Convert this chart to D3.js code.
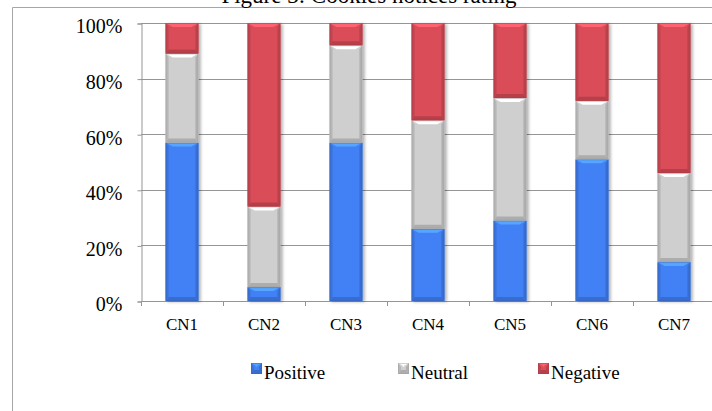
<!DOCTYPE html>
<html>
<head>
<meta charset="utf-8">
<script src="https://d3js.org/d3.v7.min.js"></script>
<style>
  body { margin: 0; background: #fff; }
  svg text { font-family: "Liberation Serif", "Times New Roman", serif !important; fill: #000; }
</style>
</head>
<body>
<div id="chart"></div>
<script>
// chart values (percent of notices)
var categories = ["CN1", "CN2", "CN3", "CN4", "CN5", "CN6", "CN7"];
var positive = [57, 5, 57, 26, 29, 51, 14];
var neutral  = [32, 29, 35, 39, 44, 21, 32];
var negative = [11, 66, 8, 35, 27, 28, 54];
var seriesNames = ["Positive", "Neutral", "Negative"];
var yTicks = [0, 0.2, 0.4, 0.6, 0.8, 1];
var title = "Figure 3: Cookies notices rating";

var width = 712, height = 411;
var colors = { Positive: "#4381f5", Neutral: "#cfcfcf", Negative: "#da4d59" };

var rows = categories.map((c, i) => ({
  cat: c,
  Positive: positive[i] / 100,
  Neutral: neutral[i] / 100,
  Negative: negative[i] / 100
}));

var svg = d3.select("#chart").append("svg")
  .attr("width", width)
  .attr("height", height)
  .style("font-family", "'Liberation Serif', serif");

var defs = svg.append("defs");
var shadow = defs.append("filter").attr("id", "shadow")
  .attr("x", "-20%").attr("y", "-5%").attr("width", "150%").attr("height", "115%");
shadow.append("feDropShadow")
  .attr("dx", 2).attr("dy", 1)
  .attr("stdDeviation", 1.6)
  .attr("flood-color", "#000")
  .attr("flood-opacity", 0.3);

// outer frame
svg.append("path")
  .attr("d", "M12.5,411 V7.5 H712")
  .attr("fill", "none")
  .attr("stroke", "#a6a6a6");

// title (cut at top like the reference)
svg.append("text")
  .attr("x", 369).attr("y", 3)
  .attr("text-anchor", "middle")
  .style("font-size", "23px")
  .text(title);

var x = d3.scaleBand()
  .domain(categories)
  .range([141, 715])
  .paddingInner(0.6)
  .paddingOuter(0.3);

var y = d3.scaleLinear().domain([0, 1]).range([301, 23]);

// gridlines
svg.append("g")
  .selectAll("line")
  .data(yTicks.slice(1))
  .join("line")
  .attr("x1", 141).attr("x2", 715)
  .attr("y1", d => Math.round(y(d)) + 0.5)
  .attr("y2", d => Math.round(y(d)) + 0.5)
  .attr("stroke", "#959595");

// y axis
var yAxis = svg.append("g")
  .attr("transform", "translate(141.5,0.5)")
  .call(d3.axisLeft(y).tickValues(yTicks).tickFormat(d3.format(".0%")).tickSize(4).tickPadding(15));
yAxis.attr("font-family", null);
yAxis.select(".domain").attr("stroke", "#959595");
yAxis.selectAll(".tick line").attr("stroke", "#959595");
yAxis.selectAll("text")
  .style("font-size", "20px")
  .attr("dy", "0.47em");

// x axis
var xAxis = svg.append("g")
  .attr("transform", "translate(0,301.5)")
  .call(d3.axisBottom(x).tickSize(0).tickPadding(0));
xAxis.attr("font-family", null);
xAxis.select(".domain").attr("stroke", "#959595").attr("d", "M141,0H715");
xAxis.selectAll("text")
  .style("font-size", "17px")
  .attr("dy", null)
  .attr("y", 28);
// boundary ticks
var step = x.step();
svg.append("g")
  .selectAll("line")
  .data(d3.range(categories.length + 1))
  .join("line")
  .attr("x1", i => Math.round(x.range()[0] + i * step) + 0.5)
  .attr("x2", i => Math.round(x.range()[0] + i * step) + 0.5)
  .attr("y1", 301).attr("y2", 306)
  .attr("stroke", "#959595");

// stacked bars with bevel
var stack = d3.stack().keys(seriesNames)(rows);

function bevel(g, x0, y0, w, h, base) {
  var b = Math.min(4, h / 2);
  var c = d3.color(base);
  var x1 = x0 + w, y1 = y0 + h;
  g.append("rect").attr("x", x0).attr("y", y0).attr("width", w).attr("height", h)
    .attr("fill", base);
  // sides
  g.append("polygon")
    .attr("points", [[x0, y0], [x0 + 3, y0 + b], [x0 + 3, y1 - b], [x0, y1]].join(" "))
    .attr("fill", c.darker(0.35));
  g.append("polygon")
    .attr("points", [[x1, y0], [x1 - 3, y0 + b], [x1 - 3, y1 - b], [x1, y1]].join(" "))
    .attr("fill", c.darker(0.45));
  // top highlight
  g.append("polygon")
    .attr("points", [[x0, y0], [x1, y0], [x1 - 3 - b, y0 + b], [x0 + 3 + b, y0 + b]].join(" "))
    .attr("fill", c.brighter(0.7));
  // bottom shade
  g.append("polygon")
    .attr("points", [[x0, y1], [x1, y1], [x1 - 3, y1 - b], [x0 + 3, y1 - b]].join(" "))
    .attr("fill", c.darker(0.5));
  g.append("rect").attr("x", x0 + 0.5).attr("y", y0 + 0.5).attr("width", w - 1).attr("height", h - 1)
    .attr("fill", "none").attr("stroke", c.darker(0.7)).attr("stroke-opacity", 0.5);
}

var bars = svg.append("g").attr("filter", "url(#shadow)");
stack.forEach(s => {
  s.forEach(d => {
    var g = bars.append("g");
    bevel(g, x(d.data.cat), y(d[1]), x.bandwidth(), y(d[0]) - y(d[1]), colors[s.key]);
  });
});

// legend
var legendX = [251, 398, 538];
var legend = svg.append("g")
  .selectAll("g")
  .data(seriesNames)
  .join("g")
  .attr("transform", (d, i) => "translate(" + legendX[i] + ",363)");
legend.each(function(d) {
  bevel(d3.select(this), 0, 0, 11, 11, colors[d]);
});
legend.append("text")
  .attr("x", 13).attr("y", 16)
  .style("font-size", "19px")
  .text(d => d);
</script>
</body>
</html>
